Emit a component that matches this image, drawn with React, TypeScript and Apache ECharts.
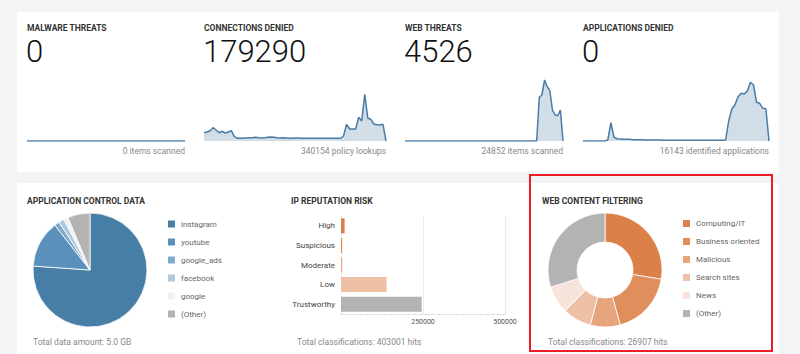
import React, { useEffect, useRef } from "react";
import * as echarts from "echarts";

// ---------- DATA ----------
const sparkTitles = ["MALWARE THREATS", "CONNECTIONS DENIED", "WEB THREATS", "APPLICATIONS DENIED"];
const sparkTotals = ["0", "179290", "4526", "0"];
const sparkCaptions = ["0 items scanned", "340154 policy lookups", "24852 items scanned", "16143 identified applications"];

const malwareSeries = [0, 0, 0, 0, 0, 0, 0, 0, 0, 0, 0, 0, 0, 0, 0, 0, 0, 0, 0, 0, 0];
const connectionsSeries = [
  8.3, 9, 10.3, 13.3, 11, 8.3, 9.7, 8, 9, 10.3, 4.3,
  2.7, 2.7, 3, 3, 3.3, 3.3, 3.7, 3.3, 3, 3.3, 3.7, 4, 3.7, 3.3, 3, 3.3, 3, 2.7, 2.7, 3,
  3, 2.7, 2.7, 2.7, 2.7, 2.7, 2.7, 2.7, 2.7, 2.7, 2.7, 2.7, 2.7, 2.7, 2.7,
  5, 16.7, 12, 12, 12, 23.7, 20, 46.7, 22.7, 21.7, 17, 16.3, 16, 16.7, 0,
];
const webThreatsSeries = [
  0, 0, 0, 0, 0, 0, 0, 0, 0, 0, 0, 0, 0, 0, 0, 0, 0, 0, 0, 0, 0, 0, 0, 0, 0, 0,
  0, 0, 0, 0, 0, 0, 0, 0, 0, 0, 0, 0, 0, 0, 0, 0, 0, 0, 0, 0, 0, 0, 0, 0, 0,
  43.7, 46, 61, 54.3, 50.3, 31, 26, 25.3, 31, 0,
];
const appsSeries = [
  0, 0, 0, 0, 0, 0, 0, 0,
  1, 18.3, 3.7, 2.3, 2, 1.7,
  1.7, 1.7, 1.3, 1.3, 1.3, 1.3, 1, 1, 1, 1, 1, 1, 0.7, 0.7, 0.7, 0.7, 0.7, 0.7,
  0.7, 0.7, 0.7, 0.7, 0.7, 0.7, 0.7, 0.7, 0.7, 0.7, 0.7, 0.7, 0.7, 0.7,
  1, 20, 32, 36, 44, 47.7, 47, 50, 58.7, 56, 38.7, 37.7, 32.7, 32.3, 0,
];
const sparkSeries = [malwareSeries, connectionsSeries, webThreatsSeries, appsSeries];

const panelTitles = ["APPLICATION CONTROL DATA", "IP REPUTATION RISK", "WEB CONTENT FILTERING"];
const panelTotals = ["Total data amount: 5.0 GB", "Total classifications: 403001 hits", "Total classifications: 26907 hits"];

const appNames = ["instagram", "youtube", "google_ads", "facebook", "google", "(Other)"];
const appShares = [76.1, 13.3, 1.44, 1.61, 1.25, 6.3];
const appColors = ["#477ea6", "#5a90bb", "#80a9ca", "#b0c9dc", "#eef3f7", "#b3b3b3"];

const riskCategories = ["High", "Suspicious", "Moderate", "Low", "Trustworthy"];
const riskHits = [11000, 3500, 3501, 139000, 246000];
const riskColors = ["#dc7f47", "#e08a53", "#e6a47c", "#eec0a4", "#b3b3b3"];
const riskTicks = [0, 250000, 500000];

const webNames = ["Computing/IT", "Business oriented", "Malicious", "Search sites", "News", "(Other)"];
const webHits = [7422, 4873, 2280, 2190, 2107, 8035];
const webColors = ["#dc8049", "#e08e5c", "#e6a57d", "#eec1a6", "#f6e4da", "#b3b3b3"];

// ---------- LAYOUT ----------
const FONT = "Roboto";
const sparkLeft = [27, 204, 405, 583];
const sparkWidth = [158, 182, 158, 186];

function txt(text: string, x: number, y: number, size: number, weight: any, color: string, align = "left") {
  return {
    type: "text",
    x,
    y,
    z: 50,
    silent: true,
    style: {
      text,
      fill: color,
      fontSize: size,
      fontWeight: weight,
      fontFamily: FONT,
      textAlign: align,
      textVerticalAlign: "middle",
      align,
      verticalAlign: "middle",
    },
  };
}

export default function App() {
  const ref = useRef<HTMLDivElement>(null);

  useEffect(() => {
    if (!ref.current) return;
    const chart = echarts.init(ref.current, null, { renderer: "svg" });

    const grids: any[] = [];
    const xAxes: any[] = [];
    const yAxes: any[] = [];
    const series: any[] = [];

    sparkSeries.forEach((vals, i) => {
      grids.push({ left: sparkLeft[i], top: 75, width: sparkWidth[i], height: 66 });
      xAxes.push({
        type: "category",
        gridIndex: i,
        boundaryGap: false,
        show: false,
        data: vals.map((_, k) => String(k)),
      });
      yAxes.push({ type: "value", gridIndex: i, min: 0, max: 66, show: false });
      series.push({
        type: "line",
        xAxisIndex: i,
        yAxisIndex: i,
        data: vals,
        symbol: "none",
        silent: true,
        lineStyle: { color: "#4a7ba6", width: 1.5 },
        areaStyle: { color: "#d1dee8", opacity: 1 },
      });
    });

    // bar chart grid
    grids.push({ left: 341, top: 216, width: 164, height: 98 });
    xAxes.push({
      type: "value",
      gridIndex: 4,
      min: riskTicks[0],
      max: riskTicks[2],
      interval: riskTicks[1],
      axisLine: { show: true, lineStyle: { color: "#dcdcdc", type: "dashed", width: 1 } },
      axisTick: { show: false },
      splitLine: { show: true, lineStyle: { color: "#ececec", width: 1 } },
      axisLabel: {
        fontSize: 7,
        color: "#555",
        fontFamily: FONT,
        margin: 4,
        formatter: (v: number) => (v === 0 ? "" : String(v)),
      },
    });
    yAxes.push({
      type: "category",
      gridIndex: 4,
      inverse: true,
      data: riskCategories,
      axisLine: { show: false },
      axisTick: { show: false },
      axisLabel: { fontSize: 8, color: "#444", fontFamily: FONT, margin: 6 },
    });
    series.push({
      type: "bar",
      xAxisIndex: 4,
      yAxisIndex: 4,
      barWidth: 15,
      silent: true,
      data: riskHits.map((v, i) => ({ value: v, itemStyle: { color: riskColors[i] } })),
    });

    series.push({
      type: "pie",
      name: "apps",
      center: [90, 270],
      radius: 57,
      startAngle: 90,
      clockwise: true,
      silent: true,
      label: { show: false },
      labelLine: { show: false },
      itemStyle: { borderColor: "#ffffff", borderWidth: 0.8 },
      data: appNames.map((n, i) => ({ name: n, value: appShares[i], itemStyle: { color: appColors[i] } })),
    });
    series.push({
      type: "pie",
      name: "web",
      center: [605, 270],
      radius: [28, 57],
      startAngle: 90,
      clockwise: true,
      silent: true,
      label: { show: false },
      labelLine: { show: false },
      itemStyle: { borderColor: "#ffffff", borderWidth: 0.8 },
      data: webNames.map((n, i) => ({ name: n, value: webHits[i], itemStyle: { color: webColors[i] } })),
    });

    const legendBase = {
      orient: "vertical",
      itemWidth: 9,
      itemHeight: 9,
      itemGap: 7,
      icon: "rect",
      padding: 0,
      selectedMode: false,
      textStyle: { fontSize: 8, color: "#666", fontFamily: FONT, lineHeight: 9 },
    };

    const graphic: any[] = [
      { type: "rect", z: -10, silent: true, shape: { x: 0, y: 0, width: 800, height: 354 }, style: { fill: "#f3f4f6" } },
      { type: "rect", z: -9, silent: true, shape: { x: 17, y: 12, width: 762, height: 160 }, style: { fill: "#ffffff" } },
      { type: "rect", z: -9, silent: true, shape: { x: 17, y: 183, width: 762, height: 175 }, style: { fill: "#ffffff" } },
      {
        type: "rect",
        z: 100,
        silent: true,
        shape: { x: 530, y: 175, width: 242, height: 176 },
        style: { fill: "none", stroke: "#ee1c25", lineWidth: 2 },
      },
    ];
    sparkTitles.forEach((t, i) => {
      graphic.push(txt(t, sparkLeft[i], 28, 8.5, "bold", "#333"));
      graphic.push(txt(sparkTotals[i], sparkLeft[i] - 1, 51, 31, 300, "#111"));
      graphic.push(txt(sparkCaptions[i], sparkLeft[i] + sparkWidth[i], 151, 8.5, "normal", "#888", "right"));
    });
    const panelX = [27, 291, 542];
    const totalX = [33, 297, 548];
    panelTitles.forEach((t, i) => {
      graphic.push(txt(t, panelX[i], 201, 8.5, "bold", "#333"));
      graphic.push(txt(panelTotals[i], totalX[i], 342, 8.5, "normal", "#888"));
    });

    chart.setOption({
      animation: false,
      grid: grids,
      xAxis: xAxes,
      yAxis: yAxes,
      series,
      legend: [
        { ...legendBase, left: 166, top: 218.5, data: appNames },
        { ...legendBase, left: 681, top: 218, data: webNames },
      ],
      graphic,
    });

    return () => chart.dispose();
  }, []);

  return (
    <div
      ref={ref}
      style={{ position: "absolute", left: 0, top: 0, width: 800, height: 354 }}
    />
  );
}
